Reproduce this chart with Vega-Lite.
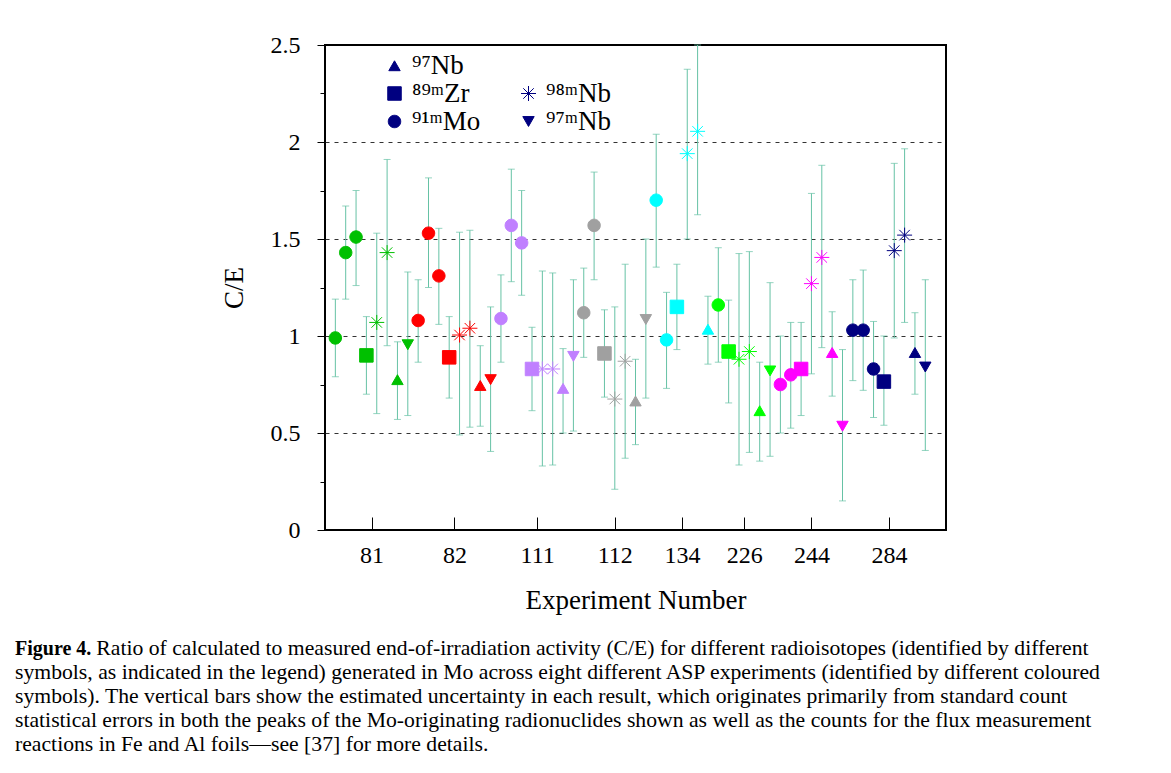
{
  "$schema": "https://vega.github.io/schema/vega-lite/v6.json",
  "autosize": {"type": "none"},
  "width": 621,
  "height": 485,
  "padding": {"left": 325, "top": 45, "right": 225, "bottom": 243},
  "background": "white",
  "config": {
    "font": "Liberation Serif",
    "view": {"stroke": "black", "strokeWidth": 2},
    "axis": {"labelColor": "black", "titleColor": "black", "titleFontWeight": "normal", "tickColor": "black", "domain": false}
  },
  "title": {
    "text": "Figure 4.",
    "subtitle": [
      "\u200b\u00a0\u00a0\u00a0\u00a0\u00a0\u00a0\u00a0\u00a0\u00a0\u00a0\u00a0\u00a0\u00a0\u00a0\u00a0Ratio of calculated to measured end-of-irradiation activity (C/E) for different radioisotopes (identified by different",
      "symbols, as indicated in the legend) generated in Mo across eight different ASP experiments (identified by different coloured",
      "symbols). The vertical bars show the estimated uncertainty in each result, which originates primarily from standard count",
      "statistical errors in both the peaks of the Mo-originating radionuclides shown as well as the counts for the flux measurement",
      "reactions in Fe and Al foils—see [37] for more details."
    ],
    "orient": "bottom",
    "anchor": "start",
    "frame": "group",
    "dx": -310,
    "offset": 26,
    "font": "Liberation Serif",
    "fontSize": 20,
    "fontWeight": "bold",
    "color": "black",
    "subtitleFont": "Liberation Serif",
    "subtitleFontSize": 21.7,
    "subtitleColor": "black",
    "subtitleLineHeight": 24,
    "subtitlePadding": -21.3
  },
  "data": {
    "values": [
      {"i": 1, "exp": "81", "iso": "⁹¹ᵐMo", "v": 0.99, "lo": 0.79, "hi": 1.19},
      {"i": 2, "exp": "81", "iso": "⁹¹ᵐMo", "v": 1.43, "lo": 1.19, "hi": 1.67},
      {"i": 3, "exp": "81", "iso": "⁹¹ᵐMo", "v": 1.51, "lo": 1.26, "hi": 1.75},
      {"i": 4, "exp": "81", "iso": "⁸⁹ᵐZr", "v": 0.90, "lo": 0.70, "hi": 1.10},
      {"i": 5, "exp": "81", "iso": "⁹⁸ᵐNb", "v": 1.07, "lo": 0.60, "hi": 1.53},
      {"i": 6, "exp": "81", "iso": "⁹⁸ᵐNb", "v": 1.43, "lo": 0.95, "hi": 1.91},
      {"i": 7, "exp": "81", "iso": "⁹⁷Nb", "v": 0.775, "lo": 0.57, "hi": 0.97},
      {"i": 8, "exp": "81", "iso": "⁹⁷ᵐNb", "v": 0.955, "lo": 0.59, "hi": 1.33},
      {"i": 9, "exp": "82", "iso": "⁹¹ᵐMo", "v": 1.08, "lo": 0.865, "hi": 1.29},
      {"i": 10, "exp": "82", "iso": "⁹¹ᵐMo", "v": 1.53, "lo": 1.25, "hi": 1.815},
      {"i": 11, "exp": "82", "iso": "⁹¹ᵐMo", "v": 1.31, "lo": 1.06, "hi": 1.555},
      {"i": 12, "exp": "82", "iso": "⁸⁹ᵐZr", "v": 0.89, "lo": 0.68, "hi": 1.10},
      {"i": 13, "exp": "82", "iso": "⁹⁸ᵐNb", "v": 1.005, "lo": 0.49, "hi": 1.535},
      {"i": 14, "exp": "82", "iso": "⁹⁸ᵐNb", "v": 1.04, "lo": 0.53, "hi": 1.545},
      {"i": 15, "exp": "82", "iso": "⁹⁷Nb", "v": 0.745, "lo": 0.535, "hi": 0.95},
      {"i": 16, "exp": "82", "iso": "⁹⁷ᵐNb", "v": 0.775, "lo": 0.405, "hi": 1.15},
      {"i": 17, "exp": "111", "iso": "⁹¹ᵐMo", "v": 1.09, "lo": 0.865, "hi": 1.315},
      {"i": 18, "exp": "111", "iso": "⁹¹ᵐMo", "v": 1.57, "lo": 1.28, "hi": 1.86},
      {"i": 19, "exp": "111", "iso": "⁹¹ᵐMo", "v": 1.48, "lo": 1.21, "hi": 1.75},
      {"i": 20, "exp": "111", "iso": "⁸⁹ᵐZr", "v": 0.83, "lo": 0.615, "hi": 1.045},
      {"i": 21, "exp": "111", "iso": "⁹⁸ᵐNb", "v": 0.83, "lo": 0.33, "hi": 1.335},
      {"i": 22, "exp": "111", "iso": "⁹⁸ᵐNb", "v": 0.83, "lo": 0.335, "hi": 1.325},
      {"i": 23, "exp": "111", "iso": "⁹⁷Nb", "v": 0.73, "lo": 0.50, "hi": 0.935},
      {"i": 24, "exp": "111", "iso": "⁹⁷ᵐNb", "v": 0.895, "lo": 0.51, "hi": 1.29},
      {"i": 25, "exp": "112", "iso": "⁹¹ᵐMo", "v": 1.12, "lo": 0.89, "hi": 1.35},
      {"i": 26, "exp": "112", "iso": "⁹¹ᵐMo", "v": 1.57, "lo": 1.29, "hi": 1.845},
      {"i": 27, "exp": "112", "iso": "⁸⁹ᵐZr", "v": 0.91, "lo": 0.685, "hi": 1.135},
      {"i": 28, "exp": "112", "iso": "⁹⁸ᵐNb", "v": 0.675, "lo": 0.21, "hi": 1.15},
      {"i": 29, "exp": "112", "iso": "⁹⁸ᵐNb", "v": 0.87, "lo": 0.37, "hi": 1.37},
      {"i": 30, "exp": "112", "iso": "⁹⁷Nb", "v": 0.665, "lo": 0.44, "hi": 0.88},
      {"i": 31, "exp": "112", "iso": "⁹⁷ᵐNb", "v": 1.085, "lo": 0.68, "hi": 1.50},
      {"i": 32, "exp": "134", "iso": "⁹¹ᵐMo", "v": 1.70, "lo": 1.355, "hi": 2.04},
      {"i": 33, "exp": "134", "iso": "⁹¹ᵐMo", "v": 0.98, "lo": 0.73, "hi": 1.225},
      {"i": 34, "exp": "134", "iso": "⁸⁹ᵐZr", "v": 1.15, "lo": 0.93, "hi": 1.37},
      {"i": 35, "exp": "134", "iso": "⁹⁸ᵐNb", "v": 1.94, "lo": 1.50, "hi": 2.375},
      {"i": 36, "exp": "134", "iso": "⁹⁸ᵐNb", "v": 2.055, "lo": 1.625, "hi": 2.5},
      {"i": 37, "exp": "134", "iso": "⁹⁷Nb", "v": 1.035, "lo": 0.855, "hi": 1.205},
      {"i": 38, "exp": "226", "iso": "⁹¹ᵐMo", "v": 1.16, "lo": 0.865, "hi": 1.455},
      {"i": 39, "exp": "226", "iso": "⁸⁹ᵐZr", "v": 0.92, "lo": 0.655, "hi": 1.185},
      {"i": 40, "exp": "226", "iso": "⁹⁸ᵐNb", "v": 0.88, "lo": 0.335, "hi": 1.425},
      {"i": 41, "exp": "226", "iso": "⁹⁸ᵐNb", "v": 0.92, "lo": 0.40, "hi": 1.435},
      {"i": 42, "exp": "226", "iso": "⁹⁷Nb", "v": 0.615, "lo": 0.355, "hi": 0.865},
      {"i": 43, "exp": "226", "iso": "⁹⁷ᵐNb", "v": 0.82, "lo": 0.38, "hi": 1.275},
      {"i": 44, "exp": "244", "iso": "⁹¹ᵐMo", "v": 0.75, "lo": 0.50, "hi": 1.00},
      {"i": 45, "exp": "244", "iso": "⁹¹ᵐMo", "v": 0.80, "lo": 0.525, "hi": 1.07},
      {"i": 46, "exp": "244", "iso": "⁸⁹ᵐZr", "v": 0.83, "lo": 0.59, "hi": 1.07},
      {"i": 47, "exp": "244", "iso": "⁹⁸ᵐNb", "v": 1.27, "lo": 0.805, "hi": 1.735},
      {"i": 48, "exp": "244", "iso": "⁹⁸ᵐNb", "v": 1.405, "lo": 0.94, "hi": 1.88},
      {"i": 49, "exp": "244", "iso": "⁹⁷Nb", "v": 0.915, "lo": 0.69, "hi": 1.125},
      {"i": 50, "exp": "244", "iso": "⁹⁷ᵐNb", "v": 0.535, "lo": 0.15, "hi": 0.93},
      {"i": 51, "exp": "284", "iso": "⁹¹ᵐMo", "v": 1.03, "lo": 0.77, "hi": 1.29},
      {"i": 52, "exp": "284", "iso": "⁹¹ᵐMo", "v": 1.03, "lo": 0.72, "hi": 1.34},
      {"i": 53, "exp": "284", "iso": "⁹¹ᵐMo", "v": 0.83, "lo": 0.58, "hi": 1.075},
      {"i": 54, "exp": "284", "iso": "⁸⁹ᵐZr", "v": 0.765, "lo": 0.54, "hi": 1.00},
      {"i": 55, "exp": "284", "iso": "⁹⁸ᵐNb", "v": 1.44, "lo": 0.99, "hi": 1.89},
      {"i": 56, "exp": "284", "iso": "⁹⁸ᵐNb", "v": 1.52, "lo": 1.07, "hi": 1.965},
      {"i": 57, "exp": "284", "iso": "⁹⁷Nb", "v": 0.915, "lo": 0.70, "hi": 1.12},
      {"i": 58, "exp": "284", "iso": "⁹⁷ᵐNb", "v": 0.84, "lo": 0.41, "hi": 1.29}
    ]
  },
  "encoding": {
    "x": {
      "field": "i", "type": "quantitative",
      "scale": {"domain": [0, 60], "nice": false, "zero": false},
      "axis": {
        "values": [4.5, 12.5, 20.5, 28, 34.5, 40.5, 47, 54.5],
        "labelExpr": "datum.value == 4.5 ? '81' : datum.value == 12.5 ? '82' : datum.value == 20.5 ? '111' : datum.value == 28 ? '112' : datum.value == 34.5 ? '134' : datum.value == 40.5 ? '226' : datum.value == 47 ? '244' : '284'",
        "grid": false,
        "tickSize": -13,
        "tickWidth": 1,
        "labelPadding": 26,
        "labelFontSize": 24,
        "labelFont": "Liberation Serif",
        "labelFlush": false,
        "labelOverlap": false,
        "title": "Experiment Number",
        "titleFont": "Liberation Serif",
        "titleFontSize": 27,
        "titlePadding": 20
      }
    }
  },
  "layer": [
    {
      "mark": {"type": "rule", "color": "#66c2a5", "strokeWidth": 1},
      "encoding": {
        "y": {
          "field": "lo", "type": "quantitative",
          "scale": {"domain": [0, 2.5], "nice": false, "zero": true},
          "axis": {
            "values": [0, 0.25, 0.5, 0.75, 1, 1.25, 1.5, 1.75, 2, 2.25, 2.5],
            "labelExpr": "datum.value % 0.5 == 0 ? '' + datum.value : ''",
            "tickSize": {"condition": {"test": "datum.value % 0.5 == 0", "value": 8}, "value": 5},
            "tickWidth": 1,
            "labelPadding": 17,
            "labelFontSize": 24,
            "labelFont": "Liberation Serif",
            "labelFlush": false,
            "labelOverlap": false,
            "grid": true,
            "gridColor": "#333",
            "gridDash": [4, 5],
            "gridWidth": 1,
            "gridOpacity": {"condition": {"test": "datum.value % 0.5 == 0 && datum.value > 0 && datum.value < 2.5", "value": 1}, "value": 0},
            "title": "C/E",
            "titleFont": "Liberation Serif",
            "titleFontSize": 27,
            "titlePadding": 22
          }
        },
        "y2": {"field": "hi"}
      }
    },
    {
      "mark": {"type": "tick", "orient": "horizontal", "color": "#66c2a5", "size": 7, "thickness": 1},
      "encoding": {"y": {"field": "lo", "type": "quantitative"}}
    },
    {
      "mark": {"type": "tick", "orient": "horizontal", "color": "#66c2a5", "size": 7, "thickness": 1},
      "encoding": {"y": {"field": "hi", "type": "quantitative"}}
    },
    {
      "mark": {"type": "point", "filled": true, "size": 225, "opacity": 1, "strokeWidth": 1},
      "encoding": {
        "y": {"field": "v", "type": "quantitative"},
        "shape": {
          "field": "iso", "type": "nominal",
          "scale": {
            "domain": ["⁹⁷Nb", "⁸⁹ᵐZr", "⁹¹ᵐMo", " ", "⁹⁸ᵐNb", "⁹⁷ᵐNb"],
            "range": [
              "M0,-0.66L0.76,0.66L-0.76,0.66Z",
              "M-0.9,-0.9H0.9V0.9H-0.9Z",
              "M-0.83,0A0.83,0.83,0,1,0,0.83,0A0.83,0.83,0,1,0,-0.83,0Z",
              "M0,0",
              "M-1,0L1,0M0,-1L0,1M-0.7,-0.7L0.7,0.7M-0.7,0.7L0.7,-0.7",
              "M0,0.66L0.76,-0.66L-0.76,-0.66Z"
            ]
          },
          "legend": {
            "title": null,
            "orient": "none",
            "legendX": 56,
            "legendY": 7,
            "columns": 2,
            "columnPadding": 34,
            "rowPadding": 0,
            "symbolSize": 225,
            "symbolOpacity": 1,
            "symbolFillColor": "#000080",
            "symbolStrokeColor": "#000080",
            "symbolStrokeWidth": 1,
            "labelFont": "Liberation Serif",
            "labelFontSize": 27,
            "labelColor": "black",
            "labelOffset": 4,
            "labelLimit": 300,
            "encode": {
              "symbols": {
                "update": {
                  "fill": {"value": "#000080"},
                  "fillOpacity": {"value": 1},
                  "stroke": {"value": "#000080"},
                  "strokeWidth": {"value": 1},
                  "opacity": {"value": 1}
                }
              }
            }
          }
        },
        "color": {
          "field": "exp", "type": "nominal",
          "scale": {
            "domain": ["81", "82", "111", "112", "134", "226", "244", "284"],
            "range": ["#00c000", "#ff0000", "#c080ff", "#a0a0a0", "#00ffff", "#00ff00", "#ff00ff", "#000080"]
          },
          "legend": null
        },
        "stroke": {
          "field": "exp", "type": "nominal",
          "scale": {
            "domain": ["81", "82", "111", "112", "134", "226", "244", "284"],
            "range": ["#00c000", "#ff0000", "#c080ff", "#a0a0a0", "#00ffff", "#00ff00", "#ff00ff", "#000080"]
          },
          "legend": null
        }
      }
    }
  ]
}
